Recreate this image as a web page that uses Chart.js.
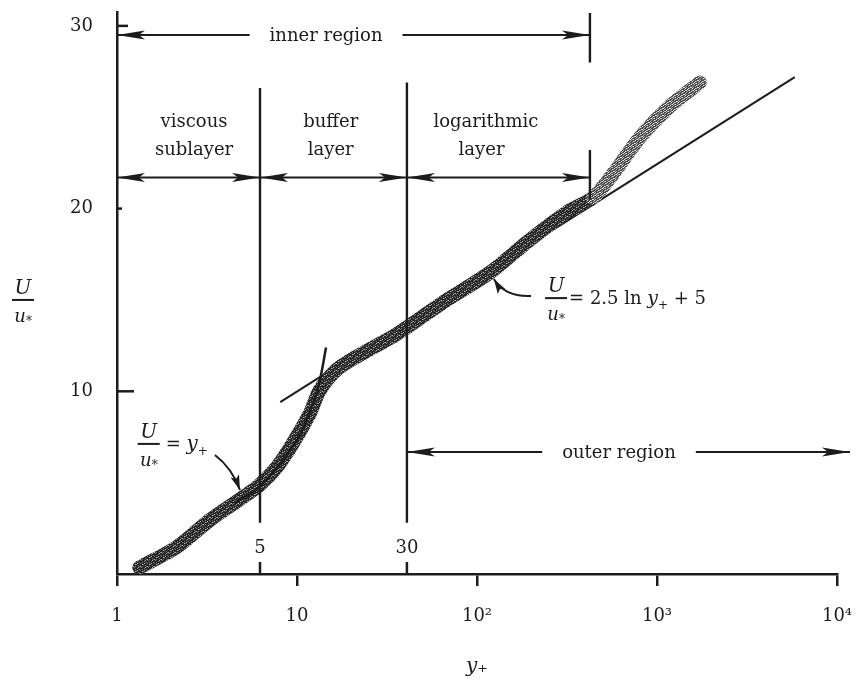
<!DOCTYPE html>
<html>
<head>
<meta charset="utf-8">
<script src="https://cdn.jsdelivr.net/npm/chart.js@4.4.0/dist/chart.umd.min.js"></script>
<style>
  html, body { margin: 0; padding: 0; background: #fff; }
  canvas { display: block; }
</style>
</head>
<body>
<canvas id="wallChart" width="856" height="682"></canvas>
<script>
// band of measured points, U/u* against y+
var bandX = [1.33, 2.15, 3.29, 5.0, 6.2, 7.74, 9.5, 11.8, 13.4, 16.7, 22.4, 34.1, 40.8, 68, 118, 197, 316, 441, 570, 805, 1180, 1730];
var bandY = [0.35, 1.48, 2.96, 4.2, 4.87, 5.86, 7.17, 8.8, 10.07, 11.2, 12.0, 13.0, 13.5, 15.0, 16.5, 18.3, 19.8, 20.6, 21.9, 23.9, 25.6, 26.9];

// U/u* = y+ as drawn
var linearX = [4.5, 6.2, 10.0, 12.3, 13.4, 14.5];
var linearY = [3.9, 4.76, 7.33, 9.36, 10.6, 12.4];

// U/u* = 2.5 ln y+ + 5 as drawn
var logLawX = [8.07, 5825];
var logLawY = [9.41, 27.2];

// region boundaries (where the lines sit in the figure) and their labels
var boundaryX = [6.23, 40.8, 424];
var boundaryTop = [26.6, 26.9];
var boundaryBottom = 2.8;
var boundaryLabels = ['5', '30'];
var innerEdgeSpans = [[30.7, 28.0], [23.2, 20.5]];
var outerEnd = 11800;

var xTickValues = [1, 10, 100, 1000, 10000];
var xTickLabels = ['1', '10', '10²', '10³', '10⁴'];
var yTickValues = [10, 20, 30];

var ink = '#1c1c1c';
var serif = '"DejaVu Serif", "Liberation Serif", serif';

var ctx = document.getElementById('wallChart').getContext('2d');

// speckled texture for the data band
function stipple(base, light, white, lightDots, whiteDots) {
  var c = document.createElement('canvas');
  c.width = 7; c.height = 7;
  var g = c.getContext('2d');
  g.fillStyle = base;
  g.fillRect(0, 0, 7, 7);
  g.fillStyle = light;
  lightDots.forEach(function (p) { g.fillRect(p[0], p[1], 1, 1); });
  g.fillStyle = white;
  whiteDots.forEach(function (p) { g.fillRect(p[0], p[1], 1, 1); });
  return ctx.createPattern(c, 'repeat');
}
var bandDark = stipple('#262626', '#777777', '#b8b8b8',
  [[1,0],[4,1],[6,2],[0,3],[3,4],[5,5],[2,6],[6,6],[2,2]],
  [[5,0],[2,4],[0,6],[4,3]]);
var bandLight = stipple('#4a4a4a', '#a8a8a8', '#e4e4e4',
  [[1,0],[4,1],[6,2],[0,3],[3,4],[5,5],[2,6],[6,6],[2,2],[0,1]],
  [[5,0],[2,4],[0,6],[4,3],[3,1],[6,4],[1,5],[5,3],[3,6]]);

function pts(xs, ys) {
  return xs.map(function (x, i) { return { x: x, y: ys[i] }; });
}

var innerEdge = [];
innerEdgeSpans.forEach(function (s, i) {
  if (i > 0) innerEdge.push({ x: boundaryX[2], y: null });
  innerEdge.push({ x: boundaryX[2], y: s[0] });
  innerEdge.push({ x: boundaryX[2], y: s[1] });
});

var annotate = {
  id: 'annotate',
  afterDatasetsDraw: function (chart) {
    var c = chart.ctx, area = chart.chartArea;
    var sx = chart.scales.x, sy = chart.scales.y;
    var X = function (v) { return sx.getPixelForValue(v); };
    var Y = function (v) { return sy.getPixelForValue(v); };
    c.save();
    c.strokeStyle = ink;
    c.fillStyle = ink;

    // inward ticks on the y axis
    c.lineWidth = 2.5;
    yTickValues.forEach(function (v) {
      var len = v === 10 ? 17 : (v === 30 ? 11 : 5);
      c.beginPath();
      c.moveTo(area.left, Y(v));
      c.lineTo(area.left + len, Y(v));
      c.stroke();
    });

    // small ticks and labels at the 5 and 30 boundaries
    c.font = '18px ' + serif;
    c.textAlign = 'center';
    c.textBaseline = 'middle';
    boundaryLabels.forEach(function (t, i) {
      var x = X(boundaryX[i]);
      c.beginPath();
      c.moveTo(x, area.bottom);
      c.lineTo(x, area.bottom - 12);
      c.stroke();
      c.fillText(t, x, area.bottom - 26);
    });

    function head(x, y, dx, dy, L, W) {
      var bx = x - dx * L, by = y - dy * L;
      var nx = -dy, ny = dx;
      c.beginPath();
      c.moveTo(x, y);
      c.lineTo(bx + nx * W, by + ny * W);
      c.lineTo(x - dx * L * 0.78, y - dy * L * 0.78);
      c.lineTo(bx - nx * W, by - ny * W);
      c.closePath();
      c.fill();
    }
    function span(x1, x2, y) {
      c.lineWidth = 2;
      c.beginPath();
      c.moveTo(x1, y);
      c.lineTo(x2, y);
      c.stroke();
      head(x1, y, -1, 0, 28, 4.5);
      head(x2, y, 1, 0, 28, 4.5);
    }
    function labelledSpan(x1, x2, y, text, cx) {
      c.font = '18px ' + serif;
      var w = c.measureText(text).width;
      c.lineWidth = 2;
      c.beginPath();
      c.moveTo(x1, y); c.lineTo(cx - w / 2 - 20, y);
      c.moveTo(cx + w / 2 + 20, y); c.lineTo(x2, y);
      c.stroke();
      head(x1, y, -1, 0, 28, 4.5);
      head(x2, y, 1, 0, 28, 4.5);
      c.textAlign = 'center';
      c.textBaseline = 'middle';
      c.fillText(text, cx, y + 1);
    }

    labelledSpan(X(1), X(boundaryX[2]), Y(29.5), 'inner region', X(14.5));
    span(X(1), X(boundaryX[0]), Y(21.7));
    span(X(boundaryX[0]), X(boundaryX[1]), Y(21.7));
    span(X(boundaryX[1]), X(boundaryX[2]), Y(21.7));
    labelledSpan(X(boundaryX[1]), X(outerEnd), Y(6.68), 'outer region', X(615));

    c.font = '18px ' + serif;
    c.textAlign = 'center';
    c.textBaseline = 'middle';
    c.fillText('viscous', X(2.68), Y(24.74));
    c.fillText('sublayer', X(2.68), Y(23.2));
    c.fillText('buffer', X(15.4), Y(24.74));
    c.fillText('layer', X(15.4), Y(23.2));
    c.fillText('logarithmic', X(112), Y(24.7));
    c.fillText('layer', X(106), Y(23.2));

    function frac(cx, barY) {
      c.textAlign = 'center';
      c.textBaseline = 'alphabetic';
      c.font = 'italic 20px ' + serif;
      c.fillText('U', cx, barY - 6);
      c.lineWidth = 2;
      c.beginPath();
      c.moveTo(cx - 11, barY);
      c.lineTo(cx + 11, barY);
      c.stroke();
      c.font = 'italic 18px ' + serif;
      c.fillText('u', cx - 3, barY + 22);
      c.font = '12px ' + serif;
      c.fillText('*', cx + 6, barY + 25);
    }
    function run(parts, x, y) {
      c.textAlign = 'left';
      c.textBaseline = 'alphabetic';
      parts.forEach(function (p) {
        c.font = p[1];
        c.fillText(p[0], x, y + (p[2] || 0));
        x += c.measureText(p[0]).width;
      });
    }
    function curvedArrow(a, b, e) {
      var x0 = X(a[0]), y0 = Y(a[1]), x1 = X(b[0]), y1 = Y(b[1]), x2 = X(e[0]), y2 = Y(e[1]);
      c.lineWidth = 2;
      c.beginPath();
      c.moveTo(x0, y0);
      c.quadraticCurveTo(x1, y1, x2, y2);
      c.stroke();
      var dx = x2 - x1, dy = y2 - y1, d = Math.sqrt(dx * dx + dy * dy);
      head(x2, y2, dx / d, dy / d, 15, 4.5);
    }

    // y axis label
    frac(area.left - 94, Y(15.0));

    // U/u* = y+
    var ax = X(1.5), ay = Y(7.12);
    frac(ax, ay);
    run([['=', '18px ' + serif], [' ', '18px ' + serif], ['y', 'italic 20px ' + serif], ['+', '12px ' + serif, 5]], ax + 17, ay + 6);
    curvedArrow([3.5, 6.51], [4.35, 5.8], [4.82, 4.6]);

    // U/u* = 2.5 ln y+ + 5
    var bx = X(275), by = Y(15.1);
    frac(bx, by);
    run([['= 2.5 ln ', '18px ' + serif], ['y', 'italic 19px ' + serif], ['+', '12px ' + serif, 5], [' + 5', '18px ' + serif]], bx + 13, by + 6);
    curvedArrow([199.5, 15.22], [143, 15.16], [124, 16.15]);

    c.restore();
  }
};

var wallChart = new Chart(ctx, {
  type: 'line',
  data: {
    datasets: [
      {
        label: 'data',
        data: pts(bandX, bandY),
        borderColor: bandDark,
        borderWidth: 14,
        borderCapStyle: 'round',
        borderJoinStyle: 'round',
        tension: 0.3,
        pointRadius: 0,
        order: 3,
        segment: {
          borderColor: function (s) { return s.p0.parsed.x >= 424 ? bandLight : bandDark; }
        }
      },
      {
        label: 'U/u* = y+',
        data: pts(linearX, linearY),
        borderColor: ink,
        borderWidth: 2.5,
        tension: 0.3,
        pointRadius: 0,
        order: 1
      },
      {
        label: 'U/u* = 2.5 ln y+ + 5',
        data: pts(logLawX, logLawY),
        borderColor: ink,
        borderWidth: 2,
        pointRadius: 0,
        order: 4
      },
      {
        label: 'viscous edge',
        data: [{ x: boundaryX[0], y: boundaryTop[0] }, { x: boundaryX[0], y: boundaryBottom }],
        borderColor: ink,
        borderWidth: 2.4,
        pointRadius: 0,
        order: 2
      },
      {
        label: 'buffer edge',
        data: [{ x: boundaryX[1], y: boundaryTop[1] }, { x: boundaryX[1], y: boundaryBottom }],
        borderColor: ink,
        borderWidth: 2.4,
        pointRadius: 0,
        order: 2
      },
      {
        label: 'inner edge',
        data: innerEdge,
        borderColor: ink,
        borderWidth: 2.4,
        pointRadius: 0,
        spanGaps: false,
        order: 2
      }
    ]
  },
  options: {
    responsive: false,
    animation: false,
    events: [],
    layout: { padding: { top: 12, right: 19, left: 0, bottom: 0 } },
    plugins: {
      legend: { display: false },
      tooltip: { enabled: false }
    },
    scales: {
      x: {
        type: 'logarithmic',
        min: 1,
        max: 10000,
        afterBuildTicks: function (scale) {
          scale.ticks = xTickValues.map(function (v) { return { value: v }; });
        },
        afterFit: function (scale) {
          scale.height = 108;
          scale.paddingLeft = 0;
          scale.paddingRight = 0;
        },
        border: { display: true, color: ink, width: 2.5 },
        grid: { drawOnChartArea: false, drawTicks: true, tickLength: 12, color: ink, lineWidth: 2.5 },
        ticks: {
          autoSkip: false,
          maxRotation: 0,
          padding: 20,
          color: ink,
          font: { family: serif, size: 18 },
          callback: function (value, index) { return xTickLabels[index]; }
        },
        title: {
          display: true,
          text: 'y₊',
          color: ink,
          font: { family: serif, size: 20, style: 'italic' },
          padding: { top: 4, bottom: 3 }
        }
      },
      y: {
        type: 'linear',
        min: 0,
        max: 30.76,
        afterBuildTicks: function (scale) {
          scale.ticks = yTickValues.map(function (v) { return { value: v }; });
        },
        afterFit: function (scale) {
          scale.width = 117;
          scale.paddingTop = 0;
          scale.paddingBottom = 0;
        },
        border: { display: true, color: ink, width: 2.5 },
        grid: { display: false, drawTicks: false },
        ticks: {
          padding: 24,
          color: ink,
          font: { family: serif, size: 18 },
          callback: function (value) { return String(value); }
        }
      }
    }
  },
  plugins: [annotate]
});
</script>
</body>
</html>
